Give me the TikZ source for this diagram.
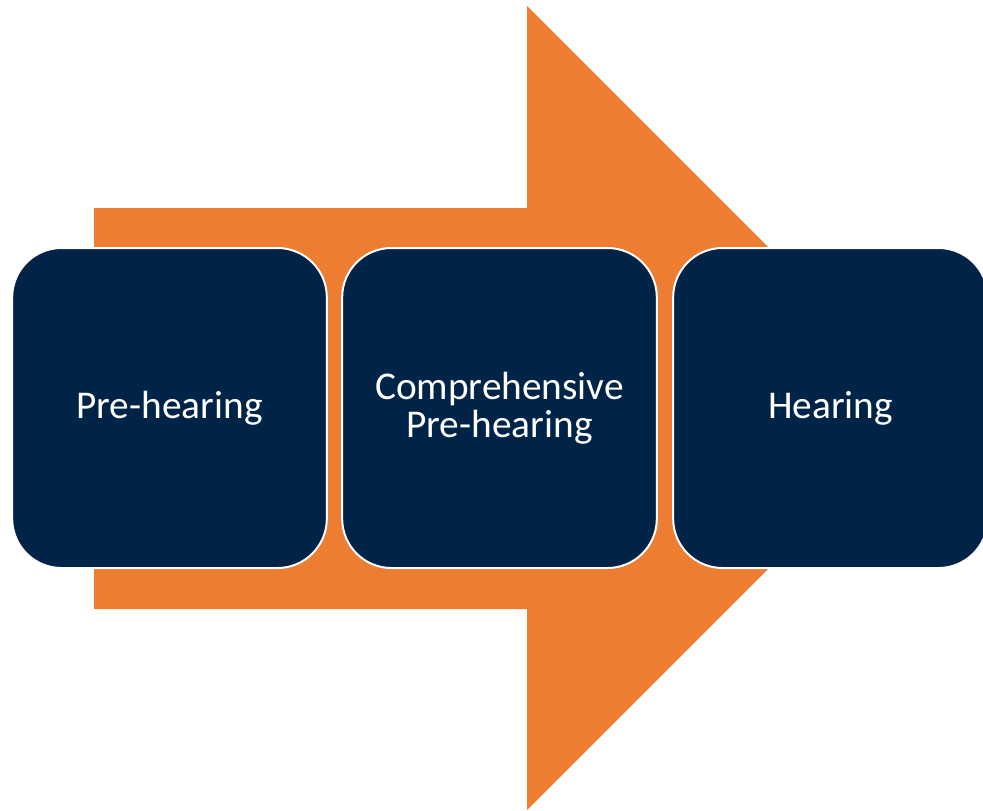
\documentclass[tikz,border=0pt]{standalone}
\usepackage{fontspec}
\setmainfont{Carlito}
\definecolor{navy}{RGB}{0,36,72}
\definecolor{arroworange}{RGB}{237,125,49}
\begin{document}
\begin{tikzpicture}[x=0.75pt,y=-0.75pt,
  stage/.style={draw=white,line width=1.5pt,fill=navy,rounded corners=37pt,
    minimum width=236pt,minimum height=240pt,text=white,align=center,
    font=\fontsize{29.5}{28.5}\selectfont,inner sep=0pt}]
\useasboundingbox (0,0) rectangle (983,811);
\fill[arroworange] (94,208) -- (527,208) -- (527,6) -- (929,408) -- (527,810) -- (527,609) -- (94,609) -- cycle;
\node[stage] (pre) at (169.5,408) {Pre-hearing};
\node[stage] (comp) at (499.5,408) {Comprehensive\\Pre-hearing};
\node[stage] (hear) at (830.5,408) {Hearing};
\end{tikzpicture}
\end{document}
